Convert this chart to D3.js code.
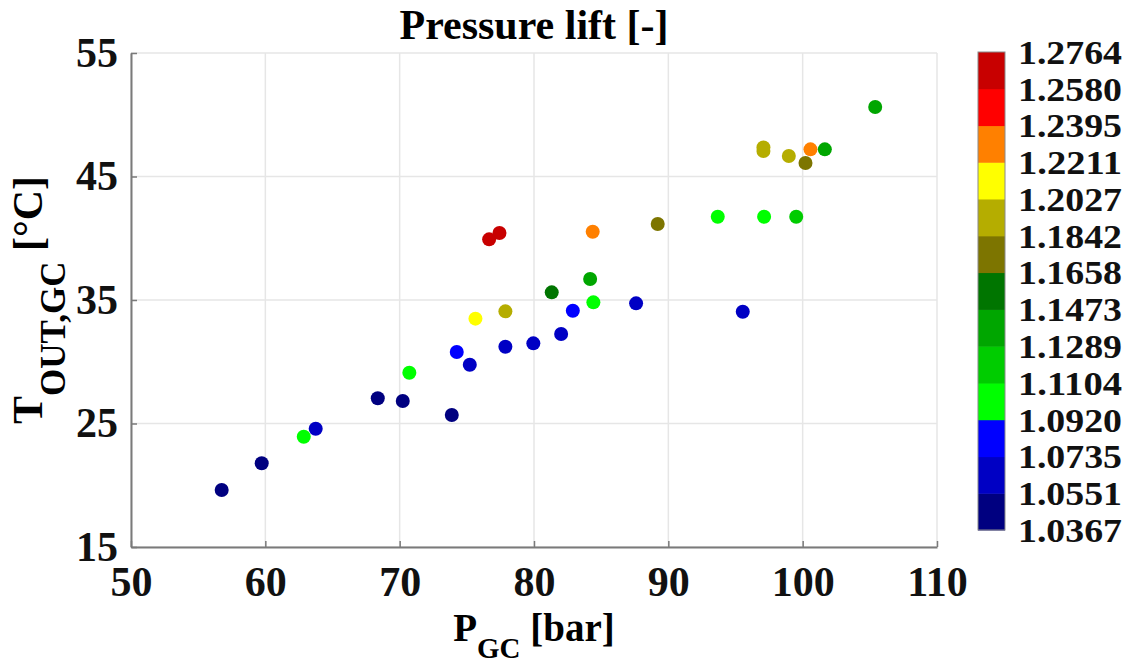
<!DOCTYPE html>
<html>
<head>
<meta charset="utf-8">
<script src="https://cdn.jsdelivr.net/npm/d3@7"></script>
<style>
  body { margin: 0; background: #fff; }
  text { font-family: 'Liberation Serif', 'Times New Roman', serif; font-weight: bold; fill: #000; }
</style>
</head>
<body>
<div id="chart"></div>
<script>
// Gas cooler pressure [bar], outlet temperature [°C] and pressure lift [-]
var pressure = [56.75, 59.73, 62.86, 63.75, 68.37, 70.23, 73.88, 70.72, 74.25, 75.22,
  75.64, 77.87, 77.87, 79.95, 82.02, 82.89, 81.32, 84.18, 84.42, 87.60,
  76.66, 77.43, 84.37, 89.21, 93.68, 97.13, 99.52, 95.54, 97.08, 97.08,
  98.97, 100.21, 100.58, 101.65, 105.40];
var temperature = [19.62, 21.78, 23.93, 24.58, 27.04, 26.82, 25.69, 29.11, 30.79, 29.76,
  33.49, 34.08, 31.22, 31.49, 32.25, 34.13, 35.62, 36.70, 34.81, 34.73,
  39.91, 40.43, 40.53, 41.15, 41.74, 41.74, 41.74, 34.05, 47.35, 47.07,
  46.66, 46.09, 47.20, 47.20, 50.63];
var lift = [1.045, 1.046, 1.100, 1.064, 1.047, 1.048, 1.044, 1.101, 1.083, 1.066,
  1.213, 1.194, 1.065, 1.066, 1.067, 1.082, 1.156, 1.138, 1.100, 1.064,
  1.270, 1.268, 1.231, 1.176, 1.099, 1.102, 1.115, 1.065, 1.195, 1.193,
  1.192, 1.175, 1.232, 1.140, 1.139];

var xTicks = [50, 60, 70, 80, 90, 100, 110];
var yTicks = [15, 25, 35, 45, 55];
var colorTicks = [1.0367, 1.0551, 1.0735, 1.0920, 1.1104, 1.1289, 1.1473,
  1.1658, 1.1842, 1.2027, 1.2211, 1.2395, 1.2580, 1.2764];
var binColors = ['#000080', '#0000c4', '#0000ff', '#00ff00', '#00cc00', '#00a600',
  '#007500', '#7d7500', '#b5ad00', '#ffff00', '#ff8000', '#ff0000', '#c80000'];

// Plot area (page pixels)
var margin = { top: 53, left: 131 },
  width = 806,
  height = 494,
  barX = 978,
  barWidth = 27,
  barTop = 52,
  barBottom = 530;

var svg = d3
  .select('#chart')
  .append('svg')
  .attr('width', 1129)
  .attr('height', 669);

var x = d3.scaleLinear().domain([50, 110]).range([0, width]);
var y = d3.scaleLinear().domain([15, 55]).range([height, 0]);
var color = d3.scaleThreshold().domain(colorTicks.slice(1, -1)).range(binColors);

var g = svg
  .append('g')
  .attr('transform', 'translate(' + margin.left + ',' + margin.top + ')');

// grid
g.append('g')
  .selectAll('line')
  .data(xTicks)
  .enter()
  .append('line')
  .attr('x1', function (d) { return x(d); })
  .attr('x2', function (d) { return x(d); })
  .attr('y1', 0)
  .attr('y2', height)
  .style('stroke', '#e6e6e6')
  .style('stroke-width', 1.5);

g.append('g')
  .selectAll('line')
  .data(yTicks)
  .enter()
  .append('line')
  .attr('x1', 0)
  .attr('x2', width)
  .attr('y1', function (d) { return y(d); })
  .attr('y2', function (d) { return y(d); })
  .style('stroke', '#e6e6e6')
  .style('stroke-width', 1.5);

// axes (left and bottom only, ticks pointing inward)
var xAxis = g
  .append('g')
  .attr('transform', 'translate(0,' + height + ')')
  .call(d3.axisBottom(x).tickValues(xTicks).tickSize(-6).tickPadding(19).tickSizeOuter(0));

var yAxis = g
  .append('g')
  .call(d3.axisLeft(y).tickValues(yTicks).tickSize(-6).tickPadding(13).tickSizeOuter(0));

[xAxis, yAxis].forEach(function (ax) {
  ax.select('.domain').style('stroke', '#7a7a7a').style('stroke-width', 2);
  ax.selectAll('.tick line').style('stroke', '#7a7a7a').style('stroke-width', 1.5);
  ax.selectAll('.tick text')
    .style('font-size', '42px')
    .style('font-family', "'Liberation Serif', serif")
    .style('font-weight', 'bold')
    .style('fill', '#111');
});

// points
var points = pressure.map(function (p, i) {
  return { p: p, t: temperature[i], lift: lift[i] };
});

g.append('g')
  .selectAll('circle')
  .data(points)
  .enter()
  .append('circle')
  .attr('cx', function (d) { return x(d.p); })
  .attr('cy', function (d) { return y(d.t); })
  .attr('r', 7)
  .style('fill', function (d) { return color(d.lift); });

// title
svg.append('text')
  .attr('x', margin.left + width / 2)
  .attr('y', 39)
  .attr('text-anchor', 'middle')
  .style('font-size', '42px')
  .text('Pressure lift [-]');

// x label
var xLabel = svg.append('text')
  .attr('x', margin.left + width / 2)
  .attr('y', 641)
  .attr('text-anchor', 'middle')
  .style('font-size', '39px');
xLabel.append('tspan').text('P');
xLabel.append('tspan').attr('dy', 17).style('font-size', '29px').text('GC');
xLabel.append('tspan').attr('dy', -17).text(' [bar]');

// y label
var yLabel = svg.append('text')
  .attr('transform', 'translate(42,' + (margin.top + height / 2) + ') rotate(-90)')
  .attr('text-anchor', 'middle')
  .style('font-size', '42px');
yLabel.append('tspan').text('T');
yLabel.append('tspan').attr('dy', 23).style('font-size', '35px').text('OUT,GC');
yLabel.append('tspan').attr('dy', -23).text(' [°C]');

// colorbar
var cy = d3.scaleLinear()
  .domain([colorTicks[0], colorTicks[colorTicks.length - 1]])
  .range([barBottom, barTop]);

var bins = binColors.map(function (c, i) {
  return { lo: colorTicks[i], hi: colorTicks[i + 1], color: c };
});

svg.append('g')
  .selectAll('rect')
  .data(bins)
  .enter()
  .append('rect')
  .attr('x', barX)
  .attr('y', function (d) { return cy(d.hi); })
  .attr('width', barWidth)
  .attr('height', function (d) { return cy(d.lo) - cy(d.hi) + 0.5; })
  .style('fill', function (d) { return d.color; });

svg.append('rect')
  .attr('x', barX)
  .attr('y', barTop)
  .attr('width', barWidth)
  .attr('height', barBottom - barTop)
  .style('fill', 'none')
  .style('stroke', '#8a8a8a')
  .style('stroke-width', 1);

// labels sit tight, as in the reference: narrower font, stretched to width
svg.append('g')
  .selectAll('text')
  .data(colorTicks)
  .enter()
  .append('text')
  .attr('x', barX + barWidth + 13)
  .attr('y', function (d) { return cy(d); })
  .attr('dy', '0.36em')
  .attr('textLength', 104)
  .attr('lengthAdjust', 'spacingAndGlyphs')
  .style('font-size', '33px')
  .style('fill', '#111')
  .text(function (d) { return d.toFixed(4); });
</script>
</body>
</html>
